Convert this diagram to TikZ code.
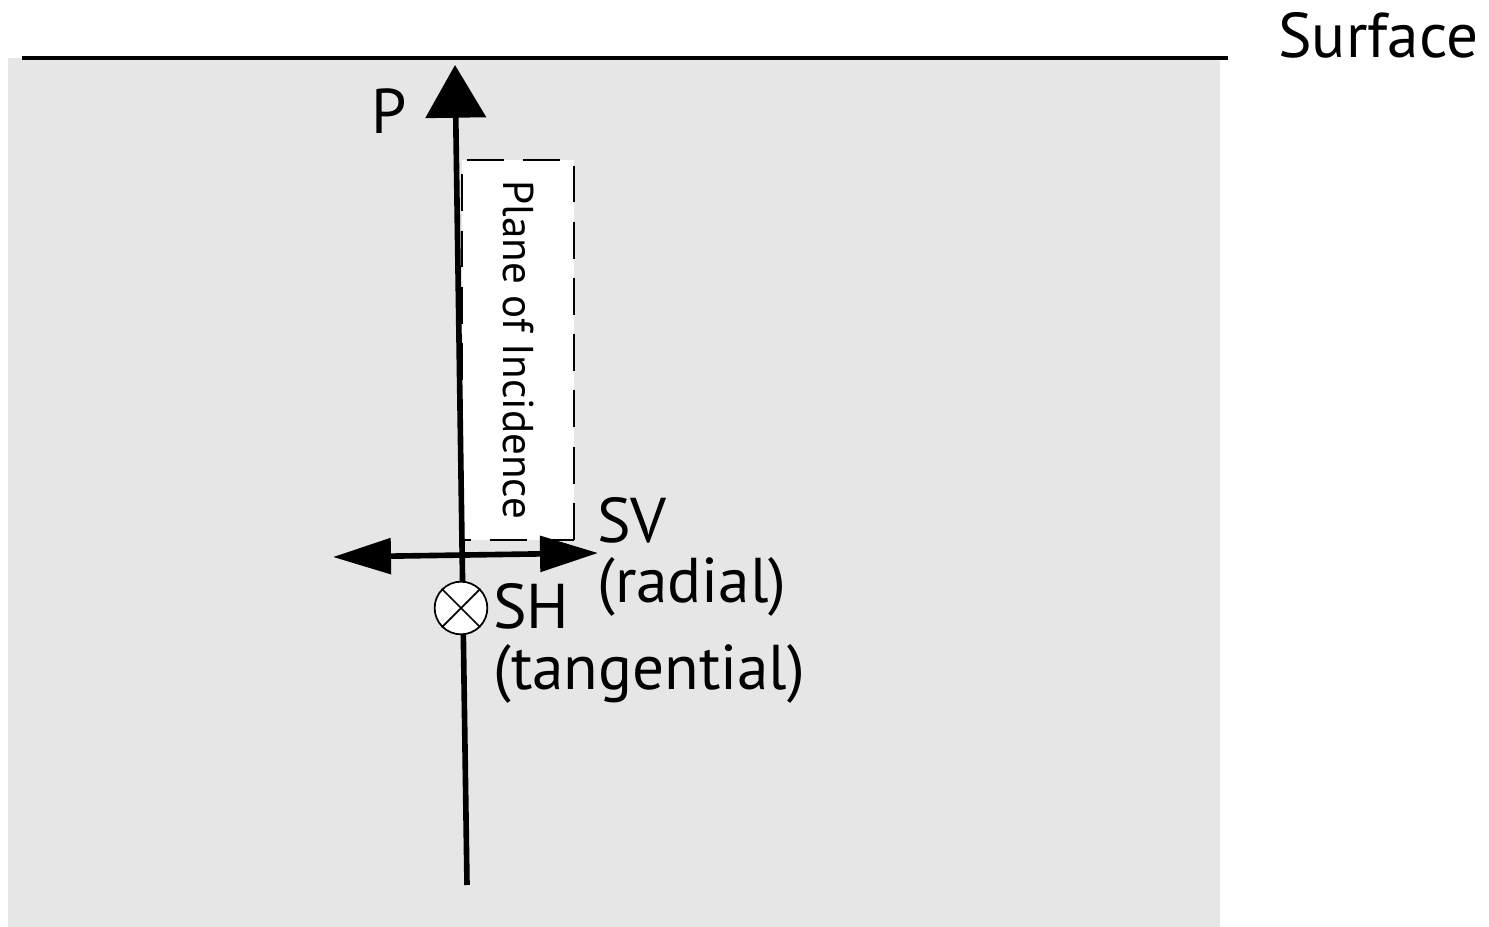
\documentclass[tikz,border=0pt]{standalone}
\usepackage{fontspec}
\setmainfont{PT Sans}
\usetikzlibrary{arrows.meta}
\definecolor{earth}{HTML}{E6E6E6}
\begin{document}
\begin{tikzpicture}
[x=0.02cm, y=-0.02cm,
lbl/.style = {font=\fontsize{36}{31}\selectfont, inner sep=0pt, align=left},
wave/.style = {line width=3.2pt},
planebox/.style = 
{draw, dash pattern=on 21pt off 11pt, line width=1.2pt, fill=white,
rotate=-90, minimum width=216pt, minimum height=64pt, inner sep=0pt,
font=\fontsize{24.5}{28}\selectfont},
shmark/.style = {draw, circle, fill=white, line width=1pt, minimum size=30pt, inner sep=0pt}]
\useasboundingbox (0,0) rectangle (1489,927);
\fill[earth] (8,58) rectangle (1220,927);

\coordinate (S1) at (22,58);
\coordinate (S2) at (1228,58);
\draw[line width=2.8pt] (S1)--(S2);
\node[lbl, anchor=base west](surf) at (1278,57){Surface};

\node[planebox](plane) at (518,350){Plane of Incidence};

\coordinate (Pbot) at (467,885);
\coordinate (Ptop) at (455,65);
\draw[wave, -{Triangle[length=30pt,width=34pt]}] (Pbot)--(Ptop);
\node[lbl](P) at (389,111){P};

\coordinate (SVl) at (333,557);
\coordinate (SVr) at (598,553);
\draw[wave, {Triangle[length=33pt,width=20pt]}-{Triangle[length=33pt,width=20pt]}] (SVl)--(SVr);

\node[shmark](SH) at (461,608){};
\draw[line width=1pt] (SH.45)--(SH.225) (SH.135)--(SH.315);

\node[lbl, anchor=north west](SV) at (597,497){SV\\[3pt](radial)};
\node[lbl, anchor=north west](SHl) at (493,583){SH\\[4pt](tangential)};
\end{tikzpicture}
\end{document}
